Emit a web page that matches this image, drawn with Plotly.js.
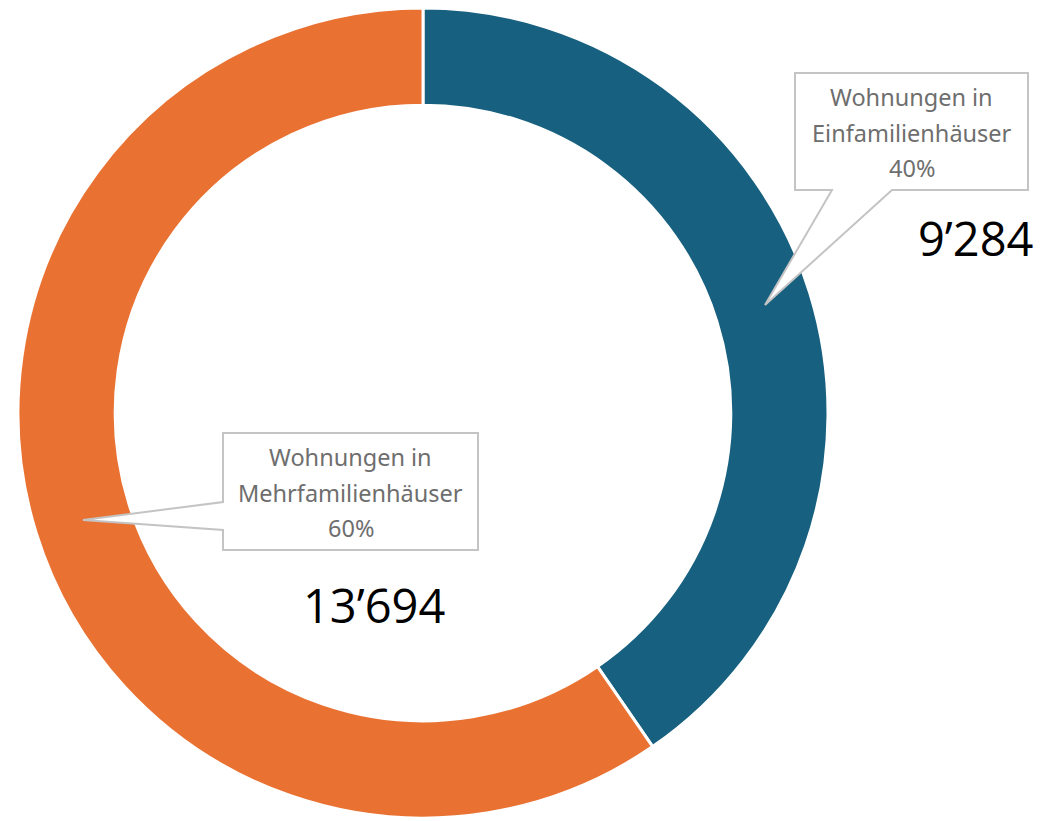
<!DOCTYPE html>
<html>
<head>
<meta charset="utf-8">
<script src="https://cdn.plot.ly/plotly-3.0.1.min.js"></script>
<style>html,body{margin:0;padding:0;background:#fff;}#chart{width:1043px;height:821px;}</style>
</head>
<body>
<div id="chart"></div>
<script>
const categories = ["Wohnungen in Einfamilienhäuser", "Wohnungen in Mehrfamilienhäuser"];
const labelLines = [["Wohnungen in", "Einfamilienhäuser"], ["Wohnungen in", "Mehrfamilienhäuser"]];
const values = [9284, 13694];
const colors = ["#17607f", "#e97132"];

const W = 1043, H = 821;
const px = x => x / W;
const py = y => 1 - y / H;
const total = values.reduce((a, b) => a + b, 0);
const fmt = v => String(v).replace(/\B(?=(\d{3})+(?!\d))/g, "\u2019");

const trace = {
  type: "pie",
  labels: categories,
  values: values,
  hole: 0.76,
  sort: false,
  direction: "clockwise",
  rotation: 0,
  textinfo: "none",
  hoverinfo: "label+value+percent",
  marker: { colors: colors, line: { color: "#ffffff", width: 3 } },
  domain: { x: [px(423 - 405), px(423 + 405)], y: [py(413 + 405), py(413 - 405)] },
  showlegend: false
};

const boxPaths = [
  "M795,-73 L1028,-73 L1028,-190 L892,-190 L765,-305 L832,-190 L795,-190 Z",
  "M223,-433 L478,-433 L478,-550 L223,-550 L223,-530 L83,-520 L223,-502 Z"
];
const shapes = boxPaths.map(p => ({
  type: "path", xref: "paper", yref: "paper", xsizemode: "pixel", ysizemode: "pixel",
  xanchor: 0, yanchor: 1, path: p, fillcolor: "#ffffff",
  line: { color: "#c4c4c4", width: 2 }, layer: "above"
}));

const boxCenters = [[911.5, 97], [350.5, 457]];
const numberPos = [[975.5, 238], [374, 605]];
const annotations = [];
categories.forEach((c, i) => {
  const lines = labelLines[i].concat([Math.round(values[i] / total * 100) + "%"]);
  lines.forEach((t, j) => {
    annotations.push({
      xref: "paper", yref: "paper", x: px(boxCenters[i][0]), y: py(boxCenters[i][1] + j * 35.5),
      text: t, showarrow: false, xanchor: "center", yanchor: "middle",
      font: { family: "Noto Sans, Lato, sans-serif", size: 23.5, color: "#6e6e6e" }
    });
  });
  annotations.push({
    xref: "paper", yref: "paper", x: px(numberPos[i][0]), y: py(numberPos[i][1]),
    text: fmt(values[i]), showarrow: false, xanchor: "center", yanchor: "middle",
    font: { family: "Open Sans, Noto Sans, sans-serif", size: 47, color: "#000000" }
  });
});

const layout = {
  width: W, height: H,
  margin: { l: 0, r: 0, t: 0, b: 0 },
  paper_bgcolor: "#ffffff",
  plot_bgcolor: "#ffffff",
  shapes: shapes,
  annotations: annotations,
  showlegend: false
};

Plotly.newPlot("chart", [trace], layout, { displayModeBar: false, staticPlot: true });
</script>
</body>
</html>
